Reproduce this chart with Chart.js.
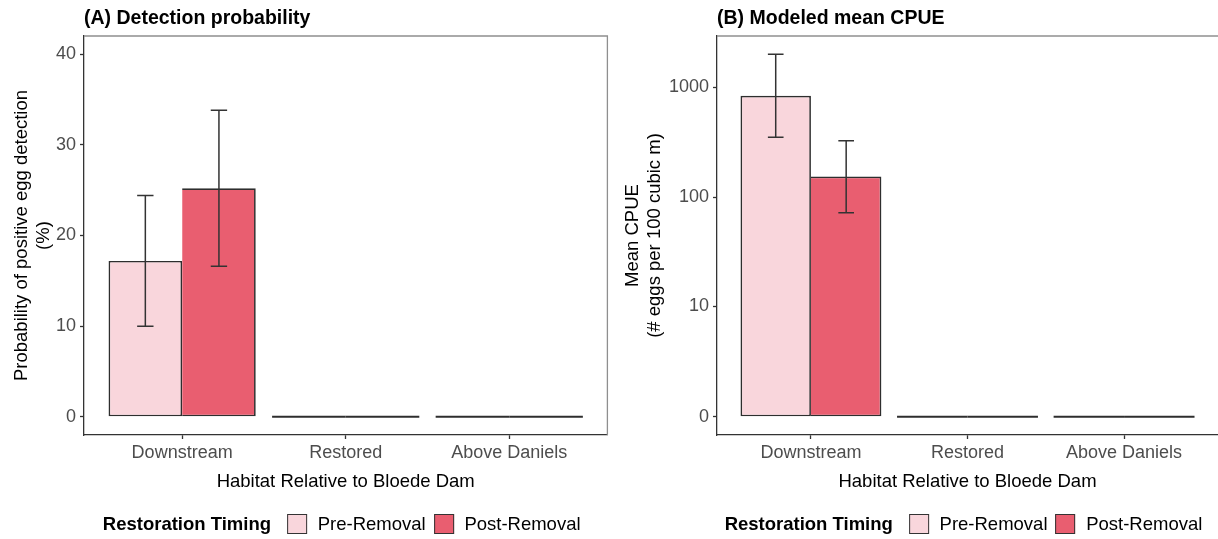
<!DOCTYPE html>
<html lang="en">
<head>
<meta charset="UTF-8">
<title>Detection probability and modeled mean CPUE</title>
<script src="https://cdn.jsdelivr.net/npm/chart.js"></script>
<style>
  body { margin: 0; background: #fff; font-family: "Liberation Sans", Arial, sans-serif; }
  .wrap { position: relative; width: 1218px; height: 539px; overflow: hidden; }
  .wrap canvas { position: absolute; top: 0; }
  #panelA { left: 0; }
  #panelB { left: 609px; }
  .legend {
    position: absolute; top: 513px; display: flex; align-items: center;
    font-size: 18.5px; line-height: 22px; color: #000; white-space: nowrap;
    transform: translateX(-50%);
  }
  .legend b { margin-right: 16px; }
  .legend .key { width: 18px; height: 18px; border: 1.3px solid #333; margin-right: 10.7px; }
  .legend .lab { margin-right: 8px; }
</style>
</head>
<body>
<div class="wrap">
  <canvas id="panelA" width="609" height="539"></canvas>
  <canvas id="panelB" width="609" height="539"></canvas>
  <div class="legend" id="legendA"></div>
  <div class="legend" id="legendB"></div>
</div>

<script>
// categories and series
const categories = ['Downstream', 'Restored', 'Above Daniels'];
const timing = ['Pre-Removal', 'Post-Removal'];

// (A) detection probability, %
const detectPre = [17.2, 0, 0];
const detectPost = [25.2, 0, 0];
const detectPreLo = [10.0, null, null];
const detectPreHi = [24.4, null, null];
const detectPostLo = [16.6, null, null];
const detectPostHi = [33.8, null, null];
const detectTicks = [0, 10, 20, 30, 40];

// (B) modeled mean CPUE, eggs per 100 cubic m
const cpuePre = [834, 0, 0];
const cpuePost = [154, 0, 0];
const cpuePreLo = [351, null, null];
const cpuePreHi = [1996, null, null];
const cpuePostLo = [72, null, null];
const cpuePostHi = [325, null, null];
const cpueTicks = [0, 10, 100, 1000];

const fills = ['#f9d6dc', '#e95e70'];
const edge = '#2e2e2e';

Chart.defaults.font.family = "'Liberation Sans', Arial, sans-serif";

// pseudo-log axis (same as ggplot's pseudo_log_trans, base 10)
const pseudoLog = v => Math.asinh(v / 2) / Math.LN10;
const identity = v => v;

// draws the error bars from errLo / errHi kept on each dataset
const errorBars = {
  id: 'errorBars',
  afterDatasetsDraw(chart) {
    const { ctx, scales: { x, y } } = chart;
    const cap = x.getPixelForValue(1.05) - x.getPixelForValue(1);
    ctx.save();
    ctx.strokeStyle = '#333';
    ctx.lineWidth = 1.5;
    chart.data.datasets.forEach((ds, i) => {
      chart.getDatasetMeta(i).data.forEach((bar, j) => {
        const lo = ds.errLo[j], hi = ds.errHi[j];
        if (lo == null || hi == null) return;
        const yl = y.getPixelForValue(lo), yh = y.getPixelForValue(hi);
        ctx.beginPath();
        ctx.moveTo(bar.x, yl); ctx.lineTo(bar.x, yh);
        ctx.moveTo(bar.x - cap, yl); ctx.lineTo(bar.x + cap, yl);
        ctx.moveTo(bar.x - cap, yh); ctx.lineTo(bar.x + cap, yh);
        ctx.stroke();
      });
    });
    ctx.restore();
  }
};

// grey top/right frame of the panel
const panelBorder = {
  id: 'panelBorder',
  afterDraw(chart, args, opts) {
    const { ctx, chartArea: a } = chart;
    ctx.save();
    ctx.strokeStyle = '#8f8f8f';
    ctx.lineWidth = 1.3;
    ctx.beginPath();
    ctx.moveTo(a.left, a.top);
    ctx.lineTo(a.right, a.top);
    if (opts.right !== false) ctx.lineTo(a.right, a.bottom);
    ctx.stroke();
    ctx.restore();
  }
};

function makeSet(label, values, lo, hi, tf, fill, skip) {
  return {
    label: label,
    data: values.map((v, i) => ({ x: i + 1, y: tf(v) })),
    errLo: lo.map(v => v == null ? null : tf(v)),
    errHi: hi.map(v => v == null ? null : tf(v)),
    backgroundColor: ctx => (ctx.raw && ctx.raw.y === 0) ? edge : fill,
    borderColor: edge,
    borderWidth: ctx => (ctx.raw && ctx.raw.y === 0) ? 0 : 1.7,
    borderSkipped: skip,
    minBarLength: 2,
    categoryPercentage: 0.9,
    barPercentage: 1.0
  };
}

function makePanel(id, cfg) {
  return new Chart(document.getElementById(id), {
    type: 'bar',
    data: {
      datasets: [
        makeSet(timing[0], cfg.pre, cfg.preLo, cfg.preHi, cfg.tf, fills[0], false),
        makeSet(timing[1], cfg.post, cfg.postLo, cfg.postHi, cfg.tf, fills[1], 'left')
      ]
    },
    plugins: [errorBars, panelBorder],
    options: {
      responsive: false,
      animation: false,
      layout: { padding: { left: 0, right: cfg.padRight, top: 0, bottom: 40 } },
      scales: {
        x: {
          type: 'linear', min: 0.4, max: 3.6, offset: false,
          afterBuildTicks: s => { s.ticks = categories.map((c, i) => ({ value: i + 1 })); },
          afterFit: s => { s.height = 64; },
          ticks: {
            callback: (v, i) => categories[i],
            font: { size: 18 }, color: '#4d4d4d', padding: 3,
            maxRotation: 0, autoSkip: false
          },
          grid: { offset: false, drawOnChartArea: false, tickLength: 4, tickColor: '#333', tickWidth: 1.3 },
          border: { color: '#333', width: 1.3 },
          title: {
            display: true, text: 'Habitat Relative to Bloede Dam',
            font: { size: 18.5 }, color: '#000', padding: { top: 0, bottom: 6.3 }
          }
        },
        y: {
          type: 'linear', min: cfg.yMin, max: cfg.yMax,
          afterBuildTicks: s => { s.ticks = cfg.ticks.map(v => ({ value: cfg.tf(v) })); },
          afterFit: s => { s.width = cfg.yWidth; },
          ticks: {
            callback: (v, i) => String(cfg.ticks[i]),
            font: { size: 18 }, color: '#4d4d4d', padding: 4
          },
          grid: { offset: false, drawOnChartArea: false, tickLength: 4, tickColor: '#333', tickWidth: 1.3 },
          border: { color: '#333', width: 1.3 },
          title: {
            display: true, text: cfg.yTitle,
            font: { size: 18.5 }, color: '#000', padding: { top: cfg.yTitlePad, bottom: 0 }
          }
        }
      },
      plugins: {
        legend: { display: false },
        tooltip: { enabled: false },
        title: {
          display: true, text: cfg.title, align: 'start', fullSize: false,
          font: { size: 19.5, weight: 'bold' }, color: '#000',
          padding: { top: 6.5, bottom: 6.1 }
        },
        panelBorder: { right: cfg.rightBorder }
      }
    }
  });
}

const chartA = makePanel('panelA', {
  title: '(A) Detection probability',
  yTitle: ['Probability of positive egg detection', '(%)'],
  pre: detectPre, post: detectPost,
  preLo: detectPreLo, preHi: detectPreHi, postLo: detectPostLo, postHi: detectPostHi,
  ticks: detectTicks, tf: identity, yMin: -2, yMax: 42,
  yWidth: 84, padRight: 1.6, yTitlePad: 10.5, rightBorder: true
});

const chartB = makePanel('panelB', {
  title: '(B) Modeled mean CPUE',
  yTitle: ['Mean CPUE', '(# eggs per 100 cubic m)'],
  pre: cpuePre, post: cpuePost,
  preLo: cpuePreLo, preHi: cpuePreHi, postLo: cpuePostLo, postHi: cpuePostHi,
  ticks: cpueTicks, tf: pseudoLog, yMin: -0.165, yMax: 3.466,
  yWidth: 108, padRight: 0, yTitlePad: 12.5, rightBorder: false
});

// legends under each panel, centred on the plotting area
function buildLegend(id, chart, offset) {
  const el = document.getElementById(id);
  let html = '<b>Restoration Timing</b>';
  timing.forEach((t, i) => {
    html += '<span class="key" style="background:' + fills[i] + '"></span><span class="lab">' + t + '</span>';
  });
  el.innerHTML = html;
  const a = chart.chartArea;
  el.style.left = (offset + (a.left + a.right) / 2) + 'px';
}
buildLegend('legendA', chartA, 0);
buildLegend('legendB', chartB, 609);
</script>
</body>
</html>
